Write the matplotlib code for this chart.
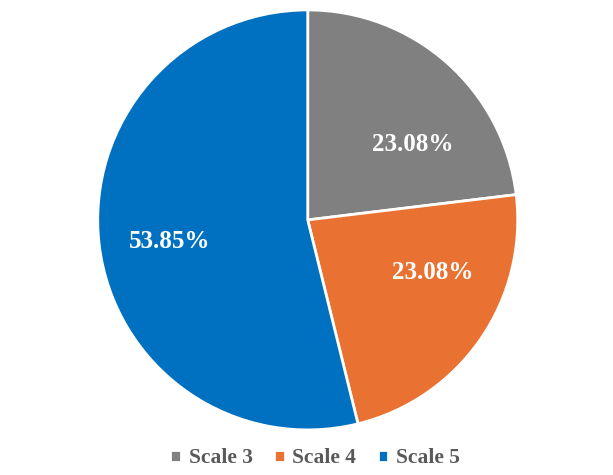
import matplotlib.pyplot as plt
import numpy as np

labels = ['Scale 3', 'Scale 4', 'Scale 5']
counts = [3, 3, 7]
colors = ['#808080', '#E97132', '#0070C0']

# label placement (angle in deg, radius as fraction of pie radius)
label_pos = [(35.5, 0.615), (-23.0, 0.645), (189.0, 0.665)]

plt.rcParams['font.family'] = ['Liberation Serif', 'DejaVu Serif']

fig = plt.figure(figsize=(6.13, 4.75), dpi=100)
ax = fig.add_axes([0.156, 0.0905, 0.692, 0.893])

wedges, texts, autotexts = ax.pie(counts, colors=colors, startangle=90, counterclock=False,
                                  autopct='%.2f%%', pctdistance=0.6,
                                  wedgeprops=dict(edgecolor='white', linewidth=2),
                                  textprops=dict(color='white', fontsize=18, fontweight='bold'))
for t, (a, r) in zip(autotexts, label_pos):
    t.set_position((r * np.cos(np.radians(a)), r * np.sin(np.radians(a))))
ax.set_xlim(-1.01, 1.01)
ax.set_ylim(-1.01, 1.01)
ax.set_aspect('equal')

fig.legend(wedges, labels, loc='center', bbox_to_anchor=(0.514, 0.035), ncol=3, frameon=False,
           handlelength=0.5, handleheight=0.5, handletextpad=0.35, columnspacing=1.0,
           prop=dict(size=15.5, weight='bold'), labelcolor='#595959')

fig.savefig('out.png', dpi=100)
